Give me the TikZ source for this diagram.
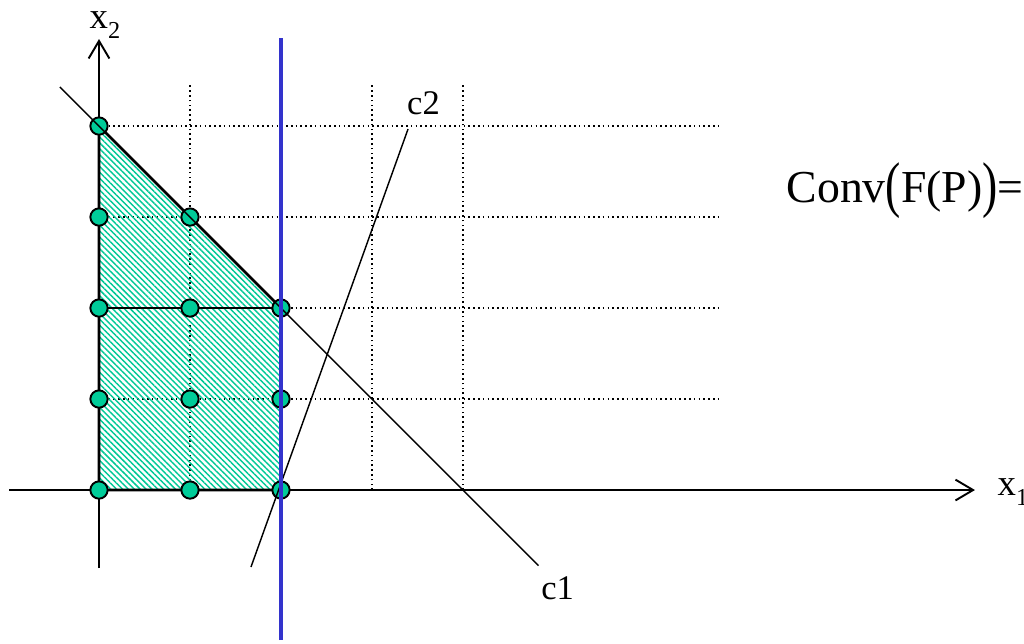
\documentclass[tikz,border=0pt]{standalone}
\usepackage{fontspec}
\setmainfont{Liberation Serif}
\usepackage{graphicx}
\usetikzlibrary{arrows.meta,patterns.meta}
\definecolor{ptgreen}{RGB}{0,204,153}
\definecolor{hatchgreen}{RGB}{0,200,150}
\definecolor{cutblue}{RGB}{51,51,204}
\newcommand{\tallparen}[1]{\raisebox{-0.08em}{\scalebox{1}[1.35]{#1}}}
\newcommand{\lowsub}[1]{\raisebox{-3.4pt}{\fontsize{7.6}{9}\selectfont #1}}

\begin{document}
\begin{tikzpicture}[
        intpoint/.style={circle, draw, line width=0.6pt, fill=ptgreen, minimum size=0.19cm, inner sep=0pt},
        gridline/.style={densely dotted, line width=0.5pt},
        axisline/.style={line width=0.6pt, -{Straight Barb[length=5.5pt,width=6.5pt]}},
        borderline/.style={line width=0.85pt},
        constrline/.style={line width=0.45pt},
        cutline/.style={line width=1.1pt, draw=cutblue},
        hatchfill/.style={pattern={Lines[angle=-45,distance=1.3pt,line width=0.45pt]}, pattern color=hatchgreen},
        axislabel/.style={font=\fontsize{11.5}{14}\selectfont, inner sep=0pt},
        linelabel/.style={font=\fontsize{10.8}{13}\selectfont, inner sep=0pt}
      ]
      \useasboundingbox (-1.088,-1.681) rectangle (10.165,5.385);

      \foreach \y in {1,...,4}
        \draw[gridline] (0,\y) -- (6.824,\y);
      \foreach \x in {1,3,4}
        \draw[gridline] (\x,0) -- (\x,4.46);

      \foreach \x/\y in {0/0,1/0,2/0,0/1,1/1,2/1,0/2,1/2,2/2,0/3,1/3,0/4}
        \coordinate (p\x\y) at (\x,\y);

      \fill[hatchfill] (p04) -- (p22) -- (p20) -- (p00) -- cycle;
      \draw[borderline] (p20) -- (p00) -- (p04) -- (p22);
      \draw[borderline] (p02) -- (p22);

      \coordinate (xstart) at (-0.989,0);
      \coordinate (xend) at (9.626,0);
      \coordinate (ystart) at (0,-0.857);
      \coordinate (yend) at (0,4.956);
      \draw[axisline] (xstart) -- (xend);
      \draw[axisline] (ystart) -- (yend);
      \node[axislabel, anchor=base west] (xonelbl) at (9.868,-0.055) {x\lowsub{1}};
      \node[axislabel, anchor=base west] (xtwolbl) at (-0.11,5.077) {x\lowsub{2}};

      \foreach \p in {00,10,20,01,11,21,02,12,22,03,13,04}
        \node[intpoint] (dot\p) at (p\p) {};

      \coordinate (conetop) at (-0.429,4.429);
      \coordinate (conebot) at (4.83,-0.83);
      \coordinate (ctwotop) at (3.396,3.967);
      \coordinate (ctwobot) at (1.670,-0.846);
      \draw[constrline] (conetop) -- (conebot);
      \draw[constrline] (ctwobot) -- (ctwotop);
      \node[linelabel] (conelbl) at (5.04,-1.08) {c1};
      \node[linelabel] (ctwolbl) at (3.566,4.247) {c2};

      \coordinate (cuttop) at (2,4.967);
      \coordinate (cutbot) at (2,-1.648);
      \draw[cutline] (cutbot) -- (cuttop);

      \node[anchor=base west, inner sep=0pt, font=\fontsize{14.3}{17}\selectfont] (convlbl) at (7.55,3.165)
        {Conv\tallparen{(}F(P)\tallparen{)}=};
    \end{tikzpicture}
\end{document}
